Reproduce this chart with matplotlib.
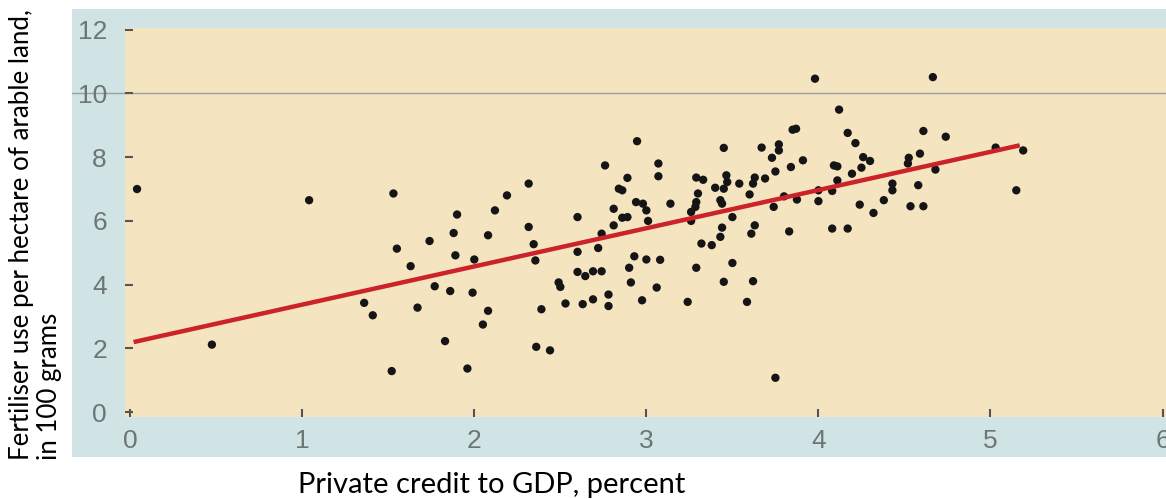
import matplotlib
matplotlib.use("Agg")
import matplotlib.pyplot as plt
from matplotlib.transforms import blended_transform_factory
from matplotlib.patches import Rectangle

# Data
credit = [0.04, 0.475, 1.04, 1.53, 1.55, 1.36, 1.41, 1.52,
          2.316, 2.19, 2.12, 1.90, 1.88, 2.316, 2.08, 1.74, 2.345, 2.355, 1.89, 2.0,
          1.63, 1.77, 1.86, 1.99, 1.67, 2.08, 2.05, 1.83, 1.96,
          2.946, 2.76, 3.07, 3.07, 2.89, 2.84, 2.86, 2.94, 2.98, 3.0, 2.81, 2.60,
          2.86, 2.89, 3.01, 2.81, 2.74, 2.72, 2.60, 2.93, 3.00, 2.90, 2.60, 2.645,
          2.69, 2.74, 2.91, 2.49, 2.50, 3.06, 2.78, 2.69, 2.63, 2.53, 2.78, 2.975,
          2.39, 2.36, 2.44,
          3.45, 3.29, 3.33, 3.465, 3.47, 3.40, 3.45, 3.54, 3.63, 3.62, 3.60, 3.30,
          3.14, 3.29, 3.285, 3.43, 3.44, 3.26, 3.26, 3.50, 3.44, 3.43, 3.63, 3.61,
          3.32, 3.38, 3.08, 3.29, 3.50, 3.45, 3.62, 3.24, 3.585,
          3.98, 4.12, 3.85, 3.87, 4.17, 4.215, 3.77, 3.67, 3.77, 3.73, 3.91, 3.84,
          3.75, 4.09, 4.11, 3.69, 4.11, 4.195, 3.80, 4.0, 4.08, 3.875, 4.0, 3.74,
          4.24, 3.83, 4.08, 4.17, 3.75,
          4.665, 4.61, 4.74, 4.26, 4.30, 4.25, 4.525, 4.59, 4.52, 4.68, 4.43, 4.43,
          4.58, 4.38, 4.32, 4.535, 4.61,
          5.03, 5.19, 5.15]
fertiliser = [7.0, 2.12, 6.65, 6.86, 5.13, 3.43, 3.04, 1.29,
              7.17, 6.80, 6.33, 6.20, 5.62, 5.81, 5.55, 5.37, 5.27, 4.76, 4.92, 4.79,
              4.58, 3.95, 3.80, 3.75, 3.28, 3.18, 2.75, 2.23, 1.37,
              8.50, 7.74, 7.80, 7.40, 7.35, 7.01, 6.96, 6.59, 6.54, 6.33, 6.38, 6.12,
              6.10, 6.12, 6.0, 5.86, 5.60, 5.15, 5.03, 4.89, 4.79, 4.53, 4.40, 4.27,
              4.42, 4.42, 4.07, 4.07, 3.93, 3.91, 3.69, 3.54, 3.39, 3.41, 3.33, 3.51,
              3.23, 2.05, 1.94,
              8.29, 7.36, 7.29, 7.43, 7.22, 7.04, 7.01, 7.17, 7.36, 7.17, 6.83, 6.86,
              6.54, 6.59, 6.44, 6.65, 6.54, 6.28, 6.00, 6.12, 5.79, 5.50, 5.86, 5.60,
              5.29, 5.24, 4.78, 4.53, 4.68, 4.09, 4.11, 3.46, 3.46,
              10.46, 9.49, 8.86, 8.89, 8.76, 8.44, 8.40, 8.30, 8.21, 7.98, 7.90, 7.69,
              7.55, 7.74, 7.71, 7.33, 7.27, 7.48, 6.77, 6.96, 6.94, 6.67, 6.62, 6.44,
              6.51, 5.67, 5.76, 5.76, 1.08,
              10.51, 8.82, 8.64, 8.00, 7.88, 7.67, 7.98, 8.11, 7.80, 7.61, 7.17, 6.96,
              7.12, 6.65, 6.25, 6.46, 6.46,
              8.30, 8.21, 6.96]
fit_x = [0.02, 5.17]
fit_y = [2.2, 8.37]
x_ticks = [0, 1, 2, 3, 4, 5, 6]
y_ticks = [0, 2, 4, 6, 8, 10, 12]
x_label = "Private credit to GDP, percent"
y_label_1 = "Fertiliser use per hectare of arable land,"
y_label_2 = "in 100 grams"

W, H = 1166, 499
fig = plt.figure(figsize=(W / 100, H / 100), dpi=100)
fig.patch.set_facecolor("white")

BLUE = "#d0e4e6"
BEIGE = "#f5e4c0"

# blue frame
fig.patches.append(Rectangle((72 / W, (H - 457) / H), 1 - 72 / W, (457 - 9) / H,
                             transform=fig.transFigure, facecolor=BLUE,
                             edgecolor="none", zorder=-5))

ax = fig.add_axes([125 / W, (H - 417) / H, 1 - 125 / W, (417 - 28) / H])
ax.set_zorder(2)
ax.set_facecolor(BEIGE)
for s in ax.spines.values():
    s.set_visible(False)

ax.set_xlim(-0.03, 6.02)
ax.set_ylim(-0.15, 12.05)
ax.set_xticks(x_ticks)
ax.set_yticks(y_ticks)
ax.tick_params(axis="both", direction="in", length=6, width=1.5, color="#555555",
               labelcolor="#6e7575", labelsize=19)
ax.tick_params(axis="y", pad=13)
ax.tick_params(axis="x", pad=9)
for lab in ax.get_xticklabels() + ax.get_yticklabels():
    lab.set_family("Liberation Sans")

# gridline at 10 extending across blue frame
tr = blended_transform_factory(fig.transFigure, ax.transData)
ax.plot([72 / W, 1.0], [10, 10], transform=tr, color="#9aa0a0", lw=1.0,
        clip_on=False, zorder=1)

ax.scatter(credit, fertiliser, s=36, color="#151515", edgecolors="none", zorder=3)
ax.plot(fit_x, fit_y, color="#cc2229", lw=3.2, solid_capstyle="butt", zorder=4)

fig.text(492 / W, (H - 485) / H, x_label, ha="center", va="center",
         fontsize=21, family="Lato", color="black")
fig.text(22 / W, (H - 460) / H, y_label_1, rotation=90, ha="center", va="bottom",
         fontsize=18.6, family="Lato", color="black")
fig.text(50 / W, (H - 460) / H, y_label_2, rotation=90, ha="center", va="bottom",
         fontsize=18.6, family="Lato", color="black")

fig.savefig("out.png", dpi=100, facecolor="white")
